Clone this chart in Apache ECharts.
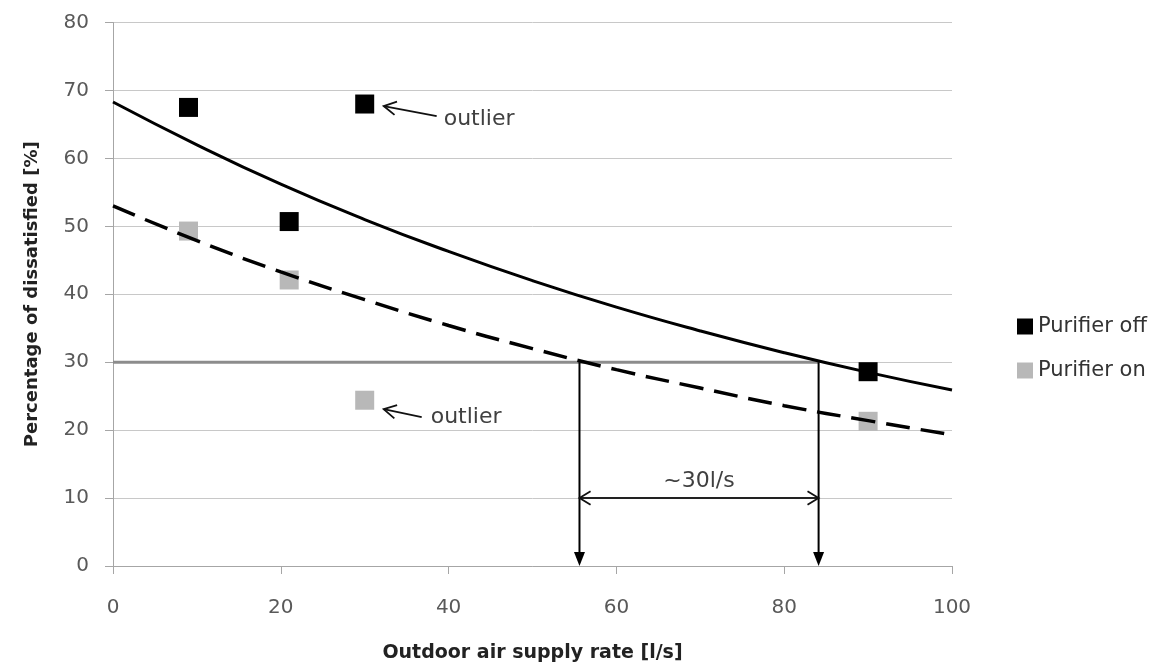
<!DOCTYPE html>
<html>
<head>
<meta charset="utf-8">
<script src="https://cdn.jsdelivr.net/npm/echarts@6/dist/echarts.min.js"></script>
<style>
  html, body { margin: 0; padding: 0; background: #ffffff; }
  #chart { width: 1156px; height: 670px; }
</style>
</head>
<body>
<div id="chart"></div>
<script>
// Measured dissatisfaction vs. outdoor air supply rate
const supplyRate   = [9, 21, 30, 90];
const purifierOff  = [67.5, 50.7, 68.0, 28.6];
const purifierOn   = [49.3, 42.1, 24.4, 21.3];

// Fitted trend curves (read every 10 l/s)
const fitRate = [0, 10, 20, 30, 40, 50, 60, 70, 80, 90, 100];
const fitOff  = [68.3, 62.0, 56.2, 51.0, 46.3, 42.0, 38.1, 34.6, 31.4, 28.5, 25.9];
const fitOn   = [53.0, 47.9, 43.3, 39.2, 35.4, 32.0, 28.9, 26.2, 23.6, 21.4, 19.3];

// 30 % dissatisfied criterion and where the two curves cross it
const criterion = 30;
const crossRate = [55.6, 84.1];
const spanLevel = 10;
const spanText  = '~30l/s';
const outlierIndex = 2;
const outlierText  = 'outlier';

const FONT = 'DejaVu Sans';

const pairs = (xs, ys) => xs.map((x, i) => [x, ys[i]]);

function chevron(tip, dir, len, spread) {
  // open arrow head: two barbs leaving the tip, opposite to dir
  const a = Math.atan2(dir[1], dir[0]);
  const b1 = [tip[0] - len * Math.cos(a - spread), tip[1] - len * Math.sin(a - spread)];
  const b2 = [tip[0] - len * Math.cos(a + spread), tip[1] - len * Math.sin(a + spread)];
  return { type: 'polyline', shape: { points: [b1, tip, b2] },
           style: { stroke: '#111', lineWidth: 1.8, fill: null } };
}

function renderNotes(params, api) {
  const kids = [];
  // vertical drop arrows from the criterion line to the axis
  crossRate.forEach(x => {
    const top = api.coord([x, criterion]);
    const bot = api.coord([x, 0]);
    kids.push({ type: 'line', shape: { x1: top[0], y1: top[1], x2: bot[0], y2: bot[1] - 10 },
                style: { stroke: '#000', lineWidth: 2 } });
    kids.push({ type: 'polygon', shape: { points: [[bot[0] - 5.5, bot[1] - 14], [bot[0] + 5.5, bot[1] - 14], [bot[0], bot[1]]] },
                style: { fill: '#000' } });
  });
  // double arrow showing the extra supply rate needed
  const l = api.coord([crossRate[0], spanLevel]);
  const r = api.coord([crossRate[1], spanLevel]);
  kids.push({ type: 'line', shape: { x1: l[0], y1: l[1], x2: r[0], y2: r[1] },
              style: { stroke: '#222', lineWidth: 2 } });
  kids.push(chevron(l, [-1, 0], 13, 0.55));
  kids.push(chevron(r, [1, 0], 13, 0.55));
  kids.push({ type: 'text', style: { text: spanText, x: (l[0] + r[0]) / 2, y: l[1] - 17,
              align: 'center', verticalAlign: 'middle', fill: '#404040',
              fontSize: 22, fontFamily: FONT } });
  // outlier call-outs
  [[purifierOff[outlierIndex], [19, 2], [72, 12], [79, 15]],
   [purifierOn[outlierIndex],  [19, 9], [57, 17], [66, 17]]].forEach(([v, tipOff, tailOff, txtOff]) => {
    const p = api.coord([supplyRate[outlierIndex], v]);
    const tip = [p[0] + tipOff[0], p[1] + tipOff[1]];
    const tail = [p[0] + tailOff[0], p[1] + tailOff[1]];
    kids.push({ type: 'line', shape: { x1: tail[0], y1: tail[1], x2: tip[0], y2: tip[1] },
                style: { stroke: '#111', lineWidth: 1.8 } });
    kids.push(chevron(tip, [tip[0] - tail[0], tip[1] - tail[1]], 14, 0.5));
    kids.push({ type: 'text', style: { text: outlierText, x: p[0] + txtOff[0], y: p[1] + txtOff[1],
                align: 'left', verticalAlign: 'middle', fill: '#404040',
                fontSize: 22, fontFamily: FONT } });
  });
  return { type: 'group', children: kids };
}

const chart = echarts.init(document.getElementById('chart'), null, { renderer: 'canvas' });

chart.setOption({
  backgroundColor: '#ffffff',
  animation: false,
  grid: { left: 113, right: 204, top: 22.5, bottom: 104 },
  legend: {
    data: ['Purifier off', 'Purifier on'],
    orient: 'vertical', left: 1012, top: 311,
    icon: 'rect', itemWidth: 16, itemHeight: 16, itemGap: 23,
    selectedMode: false,
    itemStyle: { opacity: 1 },
    textStyle: { fontFamily: FONT, fontSize: 21, color: '#333' }
  },
  xAxis: {
    type: 'value', min: 0, max: 100, interval: 20,
    name: 'Outdoor air supply rate [l/s]', nameLocation: 'middle', nameGap: 78,
    nameTextStyle: { fontFamily: FONT, fontSize: 19, fontWeight: 'bold', color: '#222' },
    axisLine: { show: true, onZero: false, lineStyle: { color: '#a6a6a6', width: 1 } },
    axisTick: { show: true, inside: false, length: 8, lineStyle: { color: '#a6a6a6' } },
    axisLabel: { margin: 32, fontFamily: FONT, fontSize: 20, color: '#595959' },
    splitLine: { show: false }
  },
  yAxis: {
    type: 'value', min: 0, max: 80, interval: 10,
    name: 'Percentage of dissatisfied [%]', nameLocation: 'middle', nameGap: 72, nameRotate: 90,
    nameTextStyle: { fontFamily: FONT, fontSize: 18, fontWeight: 'bold', color: '#222' },
    axisLine: { show: true, lineStyle: { color: '#a6a6a6', width: 1 } },
    axisTick: { show: true, inside: false, length: 8, lineStyle: { color: '#a6a6a6' } },
    axisLabel: { margin: 24, fontFamily: FONT, fontSize: 20, color: '#595959' },
    splitLine: { show: true, lineStyle: { color: '#c8c8c8', width: 1 } }
  },
  series: [
    {
      name: 'criterion', type: 'line', silent: true, z: 1,
      data: [[0, criterion], [crossRate[1], criterion]],
      symbol: 'none', lineStyle: { color: '#8c8c8c', width: 3 }
    },
    {
      name: 'Purifier off', type: 'scatter', z: 2,
      data: pairs(supplyRate, purifierOff),
      symbol: 'rect', symbolSize: 19, itemStyle: { color: '#000000', opacity: 1 }
    },
    {
      name: 'Purifier on', type: 'scatter', z: 2,
      data: pairs(supplyRate, purifierOn),
      symbol: 'rect', symbolSize: 19, itemStyle: { color: '#b8b8b8', opacity: 1 }
    },
    {
      name: 'fit off', type: 'line', silent: true, z: 3,
      data: pairs(fitRate, fitOff), smooth: 0.5,
      symbol: 'none', lineStyle: { color: '#000', width: 3 }
    },
    {
      name: 'fit on', type: 'line', silent: true, z: 3,
      data: pairs(fitRate, fitOn), smooth: 0.5,
      symbol: 'none', lineStyle: { color: '#000', width: 3.5, type: [24, 11] }
    },
    {
      name: 'notes', type: 'custom', silent: true, z: 4,
      coordinateSystem: 'cartesian2d', clip: false,
      data: [[0, 0]],
      renderItem: renderNotes
    }
  ]
});
</script>
</body>
</html>
